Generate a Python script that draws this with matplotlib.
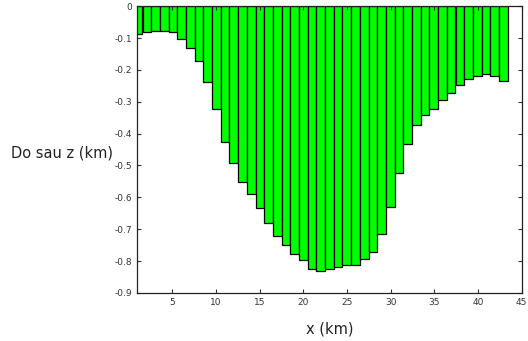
import numpy as np
import matplotlib.pyplot as plt

# do sau (km) cua tung cot, doc tu trai sang phai
x_km = np.linspace(1.1, 42.9, 43)
depth = [0.088, 0.082, 0.079, 0.079, 0.082, 0.103, 0.130, 0.173, 0.238, 0.323,
         0.426, 0.493, 0.552, 0.590, 0.632, 0.680, 0.720, 0.751, 0.777, 0.797,
         0.825, 0.832, 0.826, 0.819, 0.811, 0.811, 0.795, 0.771, 0.716, 0.630,
         0.525, 0.433, 0.373, 0.342, 0.324, 0.296, 0.272, 0.249, 0.228, 0.218,
         0.212, 0.218, 0.235]
xticks = [5, 10, 15, 20, 25, 30, 35, 40, 45]
yticks = [0, -0.1, -0.2, -0.3, -0.4, -0.5, -0.6, -0.7, -0.8, -0.9]

fig = plt.figure(figsize=(5.28, 3.41), dpi=100)
ax = fig.add_axes([0.26, 0.141, 0.728, 0.841])

z = -np.array(depth)
ax.bar(x_km, z, width=0.995, color='#00ff00', edgecolor='black', linewidth=0.9)

ax.set_xlim(1, 45)
ax.set_ylim(-0.9, 0)
ax.set_xticks(xticks)
ax.set_yticks(yticks)
ax.set_yticklabels(['0'] + ['%g' % v for v in yticks[1:]])
ax.tick_params(direction='in', length=3, labelsize=6.5, colors='#333333',
               top=True, right=True, pad=4)
for s in ax.spines.values():
    s.set_linewidth(0.9)
    s.set_color('#222222')

ax.set_xlabel('x (km)', fontsize=10.5, color='#222222', labelpad=10)
fig.text(0.118, 0.551, 'Do sau z (km)', fontsize=10.5, color='#222222',
         ha='center', va='center')

fig.savefig('out.png', dpi=100)
